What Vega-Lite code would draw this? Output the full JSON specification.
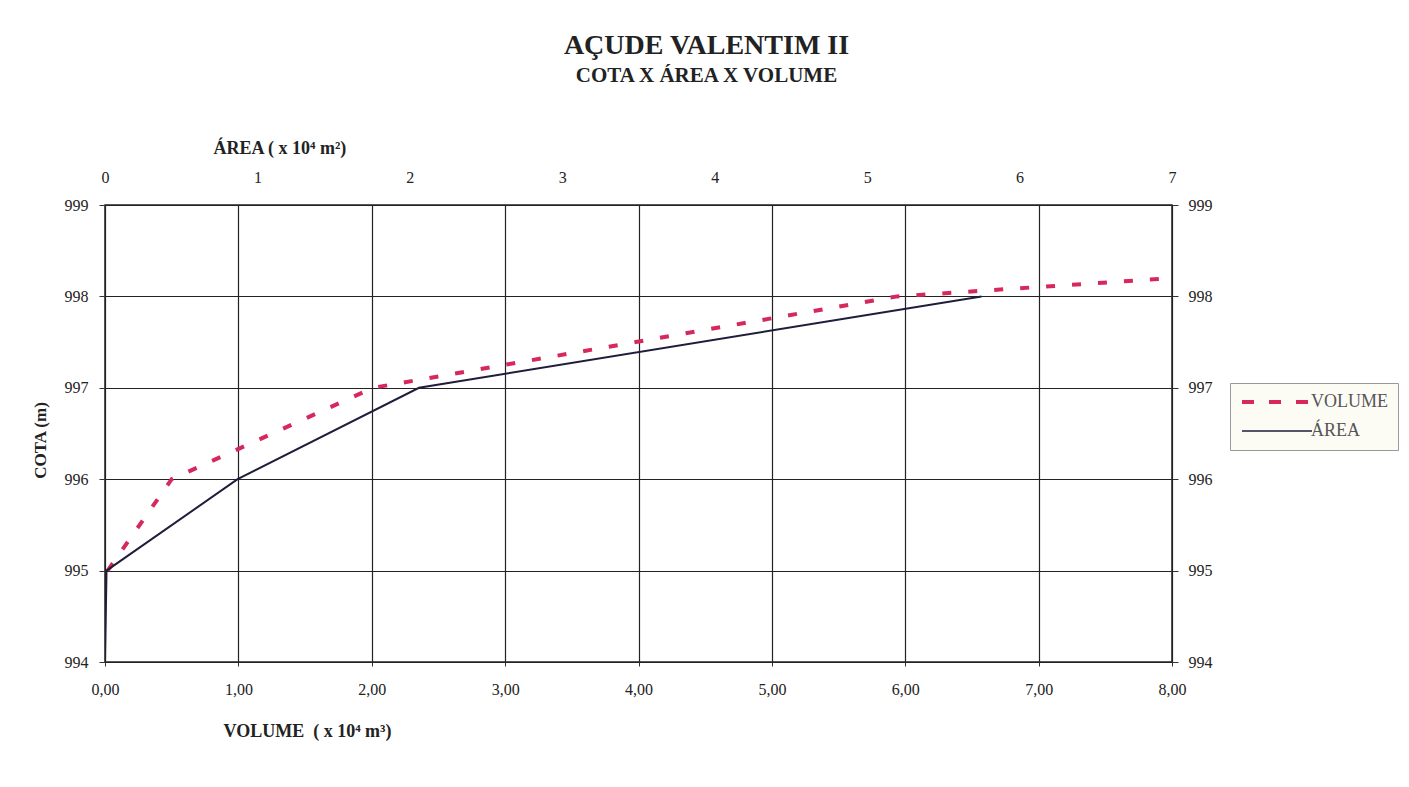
{
  "$schema": "https://vega.github.io/schema/vega-lite/v6.json",
  "autosize": {"type": "none"},
  "padding": {"left": 105, "top": 205, "right": 237, "bottom": 125},
  "width": 1067,
  "height": 457,
  "background": "white",
  "title": {
    "text": "AÇUDE VALENTIM II",
    "subtitle": "COTA X ÁREA X VOLUME",
    "anchor": "middle",
    "frame": "group",
    "dx": 68,
    "offset": 53,
    "font": "Liberation Serif",
    "fontSize": 28,
    "fontWeight": "bold",
    "color": "#222222",
    "subtitleFont": "Liberation Serif",
    "subtitleFontSize": 21,
    "subtitleFontWeight": "bold",
    "subtitleColor": "#222222",
    "subtitlePadding": 5
  },
  "datasets": {
    "volume": [
      {"volume": 0.02, "cota": 995},
      {"volume": 0.5, "cota": 996},
      {"volume": 2.01, "cota": 997},
      {"volume": 5.94, "cota": 998},
      {"volume": 8.0, "cota": 998.2}
    ],
    "area": [
      {"area": 0.0, "cota": 994},
      {"area": 0.01, "cota": 995},
      {"area": 0.87, "cota": 996},
      {"area": 2.06, "cota": 997},
      {"area": 5.75, "cota": 998}
    ]
  },
  "config": {
    "view": {"stroke": "#222222", "strokeWidth": 1.5},
    "axis": {
      "labelFont": "Liberation Serif",
      "labelFontSize": 16,
      "labelColor": "#222222",
      "labelFlush": false,
      "titleFont": "Liberation Serif",
      "titleFontSize": 18,
      "titleFontWeight": "bold",
      "titleColor": "#222222",
      "domain": false,
      "tickColor": "#333333",
      "gridColor": "#222222",
      "gridOpacity": 1,
      "gridWidth": 1.2
    }
  },
  "layer": [
    {
      "data": {"name": "volume"},
      "mark": {"type": "line", "strokeDash": [9, 17], "strokeWidth": 4, "clip": true},
      "encoding": {
        "x": {
          "field": "volume",
          "type": "quantitative",
          "scale": {"domain": [0, 8], "nice": false, "zero": false},
          "axis": {
            "orient": "bottom",
            "values": [0, 1, 2, 3, 4, 5, 6, 7, 8],
            "labelExpr": "replace(format(datum.value, '.2f'), '.', ',')",
            "grid": true,
            "tickSize": 4,
            "labelPadding": 15,
            "title": "VOLUME\u00a0 ( x 10\u2074 m\u00b3)",
            "titleX": 118,
            "titleY": 74,
            "titleAlign": "left",
            "titleBaseline": "alphabetic"
          }
        },
        "y": {
          "field": "cota",
          "type": "quantitative",
          "scale": {"domain": [994, 999], "nice": false, "zero": false},
          "axis": {
            "orient": "left",
            "values": [994, 995, 996, 997, 998, 999],
            "grid": true,
            "tickSize": 6,
            "labelPadding": 11,
            "title": "COTA (m)",
            "titleFontSize": 17,
            "titleX": -65,
            "titleY": 235,
            "titleAlign": "center",
            "titleBaseline": "middle",
            "titleAngle": 270
          }
        },
        "color": {
          "datum": "VOLUME",
          "type": "nominal",
          "scale": {"domain": ["VOLUME", "ÁREA"], "range": ["#d6285c", "#1e1e3c"]},
          "legend": {
            "title": null,
            "orient": "none",
            "legendX": 1125,
            "legendY": 178,
            "direction": "vertical",
            "fillColor": "#fcfcf5",
            "strokeColor": "#999999",
            "padding": 10,
            "symbolType": "M-2.5,0H2.5",
            "symbolSize": 784,
            "symbolOffset": 28,
            "symbolStrokeWidth": 3,
            "symbolFillColor": "transparent",
            "labelOffset": 25,
            "rowPadding": 11,
            "labelFont": "Liberation Serif",
            "labelFontSize": 18,
            "labelColor": "#555555",
            "encode": {
              "symbols": {
                "update": {
                  "strokeDash": {"signal": "datum.value === 'VOLUME' ? [12, 15] : [1, 0]"},
                  "strokeWidth": {"signal": "datum.value === 'VOLUME' ? 4 : 1.5"},
                  "fill": {"value": "transparent"}
                }
              }
            }
          }
        }
      }
    },
    {
      "data": {"name": "area"},
      "mark": {"type": "line", "strokeWidth": 2, "clip": true},
      "encoding": {
        "x": {
          "field": "area",
          "type": "quantitative",
          "scale": {"domain": [0, 7], "nice": false, "zero": false},
          "axis": {
            "orient": "top",
            "values": [0, 1, 2, 3, 4, 5, 6, 7],
            "grid": false,
            "ticks": false,
            "labelPadding": 20,
            "title": "ÁREA ( x 10\u2074 m\u00b2)",
            "titleX": 108,
            "titleY": -52,
            "titleAlign": "left",
            "titleBaseline": "alphabetic"
          }
        },
        "y": {
          "field": "cota",
          "type": "quantitative",
          "scale": {"domain": [994, 999], "nice": false, "zero": false},
          "axis": {
            "orient": "right",
            "values": [994, 995, 996, 997, 998, 999],
            "grid": false,
            "tickSize": 6,
            "labelPadding": 10,
            "title": null
          }
        },
        "color": {"datum": "ÁREA", "type": "nominal"}
      }
    }
  ],
  "resolve": {"scale": {"x": "independent", "y": "independent"}}
}
